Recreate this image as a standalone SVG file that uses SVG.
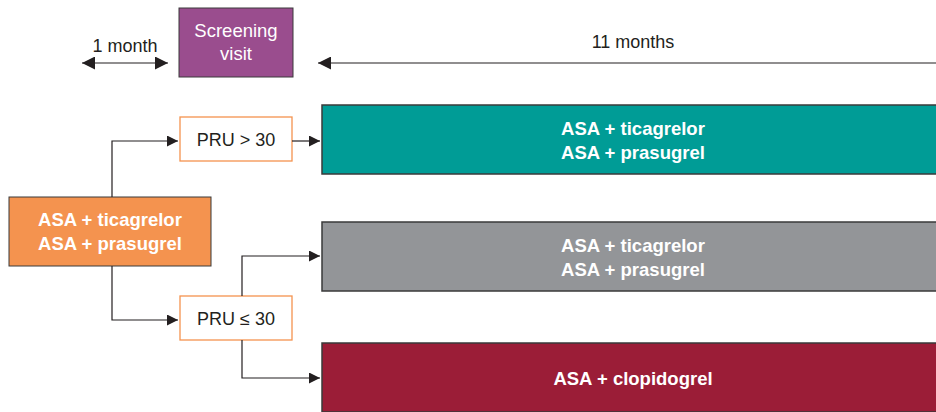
<svg xmlns="http://www.w3.org/2000/svg" width="936" height="412" viewBox="0 0 936 412">
<defs>
<marker id="ah" viewBox="0 0 10 10" refX="10" refY="5" markerWidth="11" markerHeight="11" markerUnits="userSpaceOnUse" orient="auto-start-reverse">
<path d="M0,0 L10,5 L0,10 z" fill="#231f20"/>
</marker>
<marker id="ahb" viewBox="0 0 10 10" refX="10" refY="5" markerWidth="13" markerHeight="13" markerUnits="userSpaceOnUse" orient="auto-start-reverse">
<path d="M0,0 L10,5 L0,10 z" fill="#231f20"/>
</marker>
</defs>
<style>
.t{font-family:"Liberation Sans",Arial,sans-serif;font-size:18px;fill:#231f20;text-anchor:middle}
.w{font-family:"Liberation Sans",Arial,sans-serif;font-size:18.5px;font-weight:bold;fill:#ffffff;text-anchor:middle}
.wl{font-family:"Liberation Sans",Arial,sans-serif;font-size:18.5px;fill:#ffffff;text-anchor:middle}
.c{fill:none;stroke:#231f20;stroke-width:1.2}
.pru{fill:#ffffff;stroke:#f4934f;stroke-width:1.3}
.big{stroke:#3a3a3a;stroke-width:1.5}
</style>
<rect width="936" height="412" fill="#ffffff"/>
<g id="timeline">
<text class="t" x="125" y="52">1 month</text>
<line class="c" x1="82" y1="63" x2="168" y2="63" marker-start="url(#ahb)" marker-end="url(#ahb)" stroke-width="1.5"/>
<text class="t" x="633" y="48">11 months</text>
<line class="c" x1="318" y1="63" x2="940" y2="63" marker-start="url(#ahb)" stroke-width="1.5"/>
</g>
<g id="screening">
<rect x="179" y="8" width="114" height="69" fill="#9a4d8e" stroke="#3a3a3a" stroke-width="1"/>
<text class="wl" x="236" y="37">Screening</text>
<text class="wl" x="236" y="60">visit</text>
</g>
<g id="start">
<rect x="9" y="197" width="202" height="69" fill="#f4934f" stroke="#3a3a3a" stroke-width="1"/>
<text class="w" x="110" y="226">ASA + ticagrelor</text>
<text class="w" x="110" y="250">ASA + prasugrel</text>
</g>
<g id="pru-high">
<rect class="pru" x="180" y="117" width="112" height="44"/>
<text class="t" x="236" y="146">PRU &gt; 30</text>
</g>
<g id="pru-low">
<rect class="pru" x="180" y="296" width="112" height="44"/>
<text class="t" x="236" y="325">PRU ≤ 30</text>
</g>
<g id="teal">
<rect class="big" x="322" y="105" width="620" height="69" fill="#009c96"/>
<text class="w" x="633" y="135">ASA + ticagrelor</text>
<text class="w" x="633" y="159">ASA + prasugrel</text>
</g>
<g id="gray">
<rect class="big" x="322" y="222" width="620" height="69" fill="#939598"/>
<text class="w" x="633" y="252">ASA + ticagrelor</text>
<text class="w" x="633" y="276">ASA + prasugrel</text>
</g>
<g id="crimson">
<rect class="big" x="322" y="343" width="620" height="69" fill="#9b1d37"/>
<text class="w" x="633" y="385">ASA + clopidogrel</text>
</g>
<g id="connectors">
<polyline class="c" points="112,197 112,141 178,141" marker-end="url(#ah)"/>
<line class="c" x1="292" y1="141" x2="320" y2="141" marker-end="url(#ah)"/>
<polyline class="c" points="112,266 112,320 178,320" marker-end="url(#ah)"/>
<polyline class="c" points="242,296 242,256 320,256" marker-end="url(#ah)"/>
<polyline class="c" points="242,340 242,378 320,378" marker-end="url(#ah)"/>
</g>
</svg>
